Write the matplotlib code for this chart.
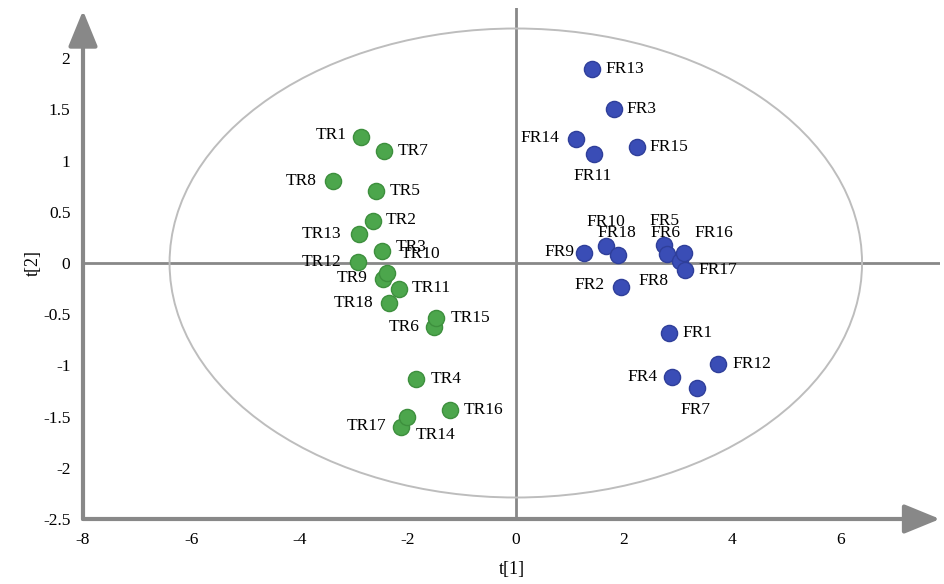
import matplotlib.pyplot as plt
from matplotlib.patches import Ellipse

# scores
tr_names = ["TR1", "TR2", "TR3", "TR4", "TR5", "TR6", "TR7", "TR8", "TR9",
            "TR10", "TR11", "TR12", "TR13", "TR14", "TR15", "TR16", "TR17", "TR18"]
tr_t1 = [-2.87, -2.64, -2.47, -1.84, -2.59, -1.51, -2.43, -3.38, -2.45,
         -2.38, -2.16, -2.91, -2.89, -2.12, -1.47, -1.22, -2.02, -2.34]
tr_t2 = [1.233, 0.410, 0.120, -1.133, 0.700, -0.628, 1.094, 0.804, -0.159,
         -0.095, -0.254, 0.007, 0.280, -1.604, -0.540, -1.436, -1.501, -0.388]

fr_names = ["FR1", "FR2", "FR3", "FR4", "FR5", "FR6", "FR7", "FR8", "FR9",
            "FR10", "FR11", "FR12", "FR13", "FR14", "FR15", "FR16", "FR17", "FR18"]
fr_t1 = [2.84, 1.94, 1.81, 2.89, 2.74, 2.79, 3.35, 3.04, 1.26,
         1.67, 1.45, 3.74, 1.41, 1.11, 2.24, 3.11, 3.12, 1.89]
fr_t2 = [-0.687, -0.231, 1.507, -1.110, 0.176, 0.085, -1.218, 0.020, 0.095,
         0.169, 1.061, -0.986, 1.890, 1.208, 1.130, 0.095, -0.068, 0.078]

x_ticks = [-8, -6, -4, -2, 0, 2, 4, 6]
y_ticks = [-2.5, -2, -1.5, -1, -0.5, 0, 0.5, 1, 1.5, 2]

# label placement in pixels (dx, dy, ha); dy positive = up
label_pos = {
    "TR1": (-14, 2, "right"), "TR2": (13, 1, "left"), "TR3": (14, 4, "left"),
    "TR4": (14, 0, "left"), "TR5": (14, 0, "left"), "TR6": (-15, 0, "right"),
    "TR7": (13, 0, "left"), "TR8": (-16, 0, "right"), "TR9": (-16, 1, "right"),
    "TR10": (14, 19, "left"), "TR11": (13, 1, "left"), "TR12": (-17, 0, "right"),
    "TR13": (-18, 0, "right"), "TR14": (15, -8, "left"), "TR15": (14, 0, "left"),
    "TR16": (14, 0, "left"), "TR17": (-20, -9, "right"), "TR18": (-16, 0, "right"),
    "FR1": (13, 0, "left"), "FR2": (-16, 2, "right"), "FR3": (13, 0, "left"),
    "FR4": (-15, 0, "right"), "FR5": (0, 24, "center"), "FR6": (-1, 21, "center"),
    "FR7": (-2, -22, "center"), "FR8": (-12, -20, "right"), "FR9": (-10, 1, "right"),
    "FR10": (0, 24, "center"), "FR11": (-2, -22, "center"), "FR12": (14, 0, "left"),
    "FR13": (13, 0, "left"), "FR14": (-17, 1, "right"), "FR15": (12, 0, "left"),
    "FR16": (10, 20, "left"), "FR17": (14, 0, "left"), "FR18": (-1, 22, "center"),
}

plt.rcParams["font.family"] = ["Liberation Serif", "DejaVu Serif"]
plt.rcParams["font.size"] = 12.5

fig = plt.figure(figsize=(9.44, 5.84), dpi=100)
ax = fig.add_axes([83 / 944, 65 / 584, 857 / 944, 511 / 584])
ax.set_xlim(-8, -8 + 857 / 54.1)
ax.set_ylim(-2.5, -2.5 + 511 / 102.4)

axis_col = "#888888"
for s in ax.spines.values():
    s.set_visible(False)

# zero lines
ax.axhline(0, color=axis_col, lw=2, zorder=1)
ax.axvline(0, color=axis_col, lw=2, zorder=1)

# main axes with arrow heads
arrow = dict(arrowstyle="-|>,head_length=1.1,head_width=0.45", color=axis_col,
             lw=3, mutation_scale=20, shrinkA=0, shrinkB=0)
ax.annotate("", xy=(0, 0.995), xytext=(0, 0), xycoords="axes fraction",
            arrowprops=arrow, annotation_clip=False)
ax.annotate("", xy=(1, 0), xytext=(0, 0), xycoords="axes fraction",
            arrowprops=arrow, annotation_clip=False)

# Hotelling T2 ellipse
ax.add_patch(Ellipse((0, 0), 12.8, 4.58, fill=False, ec="#bdbdbd", lw=1.4, zorder=1))

ax.scatter(tr_t1, tr_t2, s=135, c="#4ca64c", edgecolors="#3d8f3d", linewidths=1, zorder=3)
ax.scatter(fr_t1, fr_t2, s=135, c="#3a4db6", edgecolors="#2f3f9a", linewidths=1, zorder=3)

for names, xs, ys in [(tr_names, tr_t1, tr_t2), (fr_names, fr_t1, fr_t2)]:
    for n, x, y in zip(names, xs, ys):
        dx, dy, ha = label_pos[n]
        ax.annotate(n, (x, y), xytext=(dx, dy), textcoords="offset pixels",
                    ha=ha, va="center", fontsize=12.5, zorder=4)

ax.set_xticks(x_ticks)
ax.set_yticks(y_ticks)
ax.set_xticklabels([f"{v:g}" for v in x_ticks])
ax.set_yticklabels([f"{v:g}" for v in y_ticks])
ax.tick_params(length=0, pad=9, labelsize=12.5)
ax.set_xlabel("t[1]", fontsize=13, labelpad=10)
ax.set_ylabel("t[2]", fontsize=13, labelpad=1)

fig.savefig("out.png", dpi=100)
